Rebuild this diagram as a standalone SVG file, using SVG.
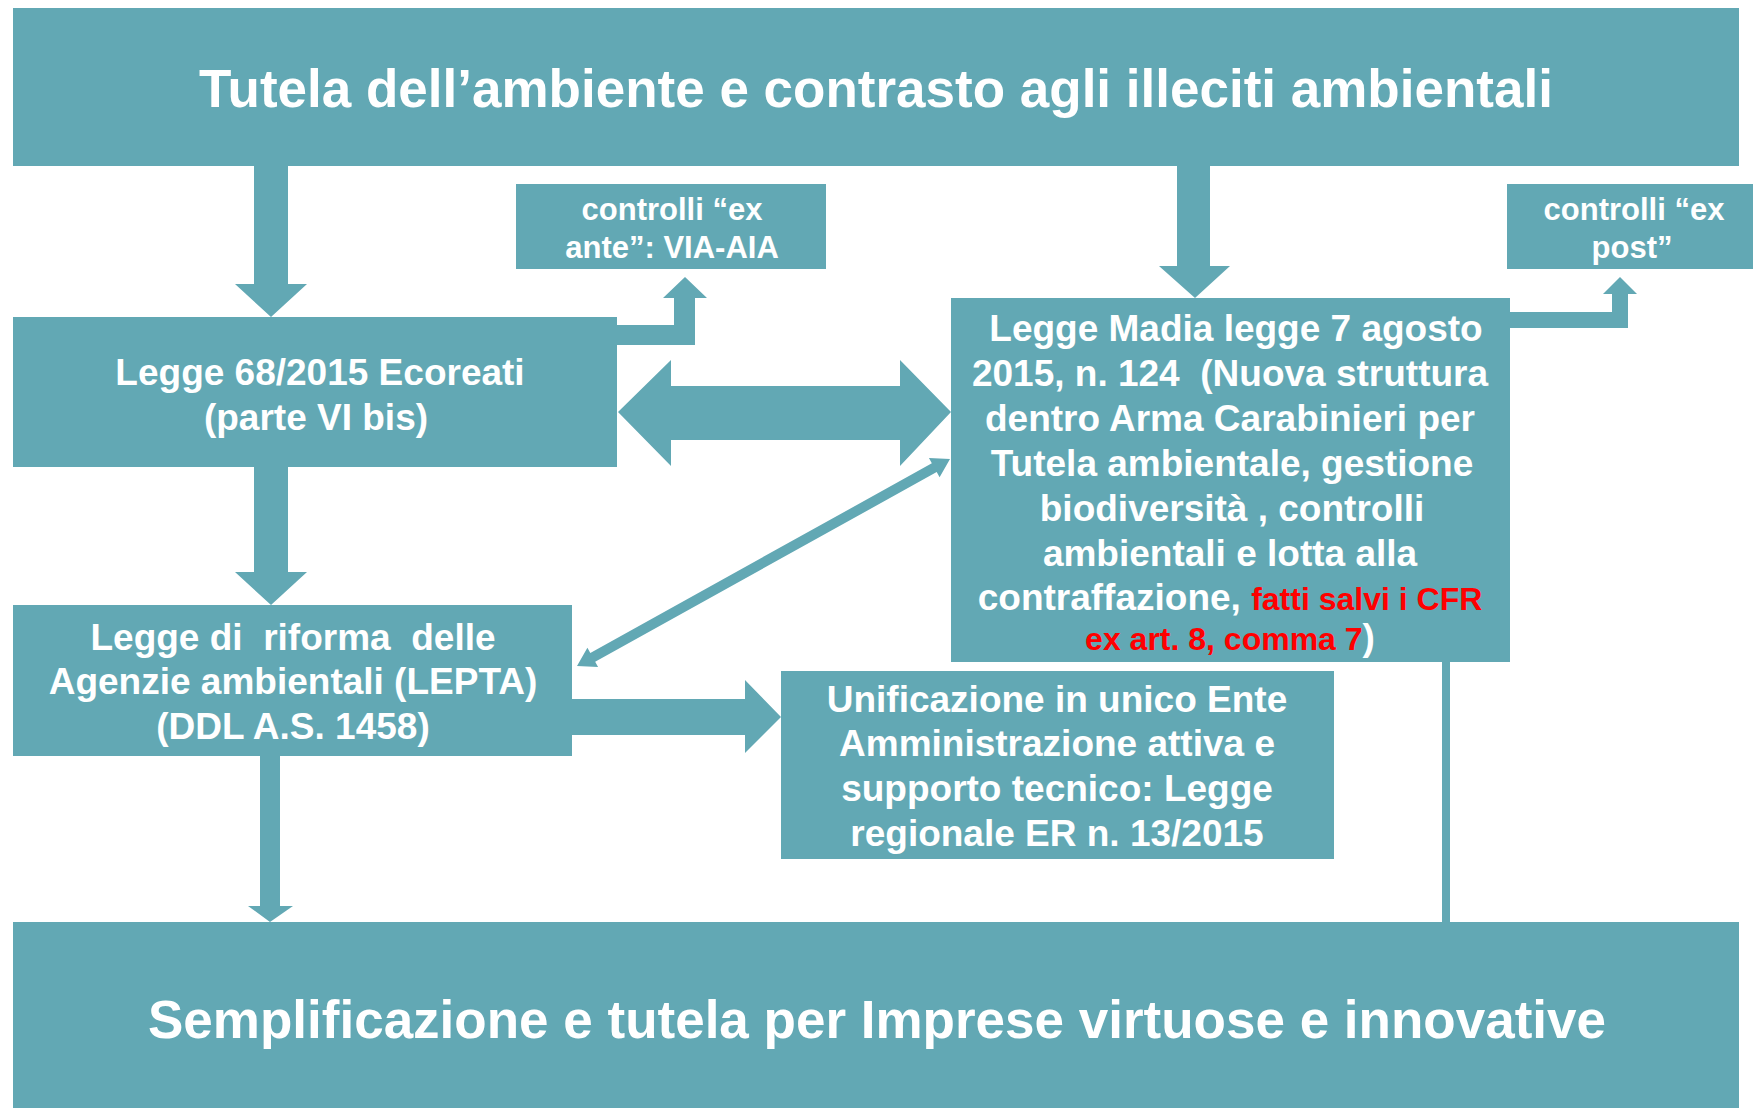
<svg xmlns="http://www.w3.org/2000/svg" width="1753" height="1108" viewBox="0 0 1753 1108">
<style>
.box{fill:#62a8b4}
.arr{fill:#62a8b4}
text{font-family:"Liberation Sans",Arial,sans-serif;font-weight:bold;fill:#ffffff;text-anchor:middle}
.big{font-size:53px}
.mid{font-size:37px}
.sm{font-size:31px}
.red{fill:#ff0000}
</style>
<rect width="1753" height="1108" fill="#ffffff"/>
<g id="connectors">
  <polygon class="arr" points="254,166 288,166 288,284 307,284 271,317 235,284 254,284"/>
  <polygon class="arr" points="1177,166 1210,166 1210,266 1230,266 1195,298 1159,266 1177,266"/>
  <polygon class="arr" points="254,467 288,467 288,572 307,572 271,605 235,572 254,572"/>
  <polygon class="arr" points="260,756 280,756 280,906 293,906 270,922 248,906 260,906"/>
  <rect class="arr" x="1442" y="662" width="8" height="262"/>
  <polygon class="arr" points="617,325 674,325 674,298 663,298 685,277 707,298 695,298 695,345 617,345"/>
  <polygon class="arr" points="1510,312 1612,312 1612,294 1603,294 1620,277 1637,294 1628,294 1628,328 1510,328"/>
  <polygon class="arr" points="618,412 671,360 671,386 900,386 900,360 951,412 900,466 900,440 671,440 671,466"/>
  <polygon class="arr" points="572,699 745,699 745,680 781,717 745,753 745,735 572,735"/>
  <polygon class="arr" transform="translate(577,666) rotate(-29.03)" points="0,0 18,-11 18,-5 408.6,-5 408.6,-11 426.6,0 408.6,11 408.6,5 18,5 18,11"/>
</g>
<g id="node-top">
  <rect class="box" x="13" y="8" width="1726" height="158"/>
  <text class="big" x="876" y="107">Tutela dell’ambiente e contrasto agli illeciti ambientali</text>
</g>
<g id="node-exante">
  <rect class="box" x="516" y="184" width="310" height="85"/>
  <text class="sm" x="672" y="220">controlli “ex</text>
  <text class="sm" x="672" y="258">ante”: VIA-AIA</text>
</g>
<g id="node-expost">
  <rect class="box" x="1507" y="184" width="246" height="85"/>
  <text class="sm" x="1634" y="220">controlli “ex</text>
  <text class="sm" x="1632" y="258">post”</text>
</g>
<g id="node-legge68">
  <rect class="box" x="13" y="317" width="604" height="150"/>
  <text class="mid" x="320" y="385">Legge 68/2015 Ecoreati</text>
  <text class="mid" x="316" y="430">(parte VI bis)</text>
</g>
<g id="node-madia">
  <rect class="box" x="951" y="298" width="559" height="364"/>
  <text class="mid" x="1236" y="341">Legge Madia legge 7 agosto</text>
  <text class="mid" x="1230" y="386" xml:space="preserve">2015, n. 124  (Nuova struttura</text>
  <text class="mid" x="1230" y="431">dentro Arma Carabinieri per</text>
  <text class="mid" x="1232" y="476">Tutela ambientale, gestione</text>
  <text class="mid" x="1232" y="521">biodiversità , controlli</text>
  <text class="mid" x="1230" y="566">ambientali e lotta alla</text>
  <text class="mid" x="1230" y="610">contraffazione, <tspan class="red" style="font-size:32px">fatti salvi i CFR</tspan></text>
  <text x="1230" y="650" style="font-size:32px"><tspan class="red">ex art. 8, comma 7</tspan><tspan style="font-size:37px">)</tspan></text>
</g>
<g id="node-riforma">
  <rect class="box" x="13" y="605" width="559" height="151"/>
  <text class="mid" x="293" y="650" xml:space="preserve">Legge di  riforma  delle</text>
  <text class="mid" x="293" y="694">Agenzie ambientali (LEPTA)</text>
  <text class="mid" x="293" y="739">(DDL A.S. 1458)</text>
</g>
<g id="node-unificazione">
  <rect class="box" x="781" y="671" width="553" height="188"/>
  <text class="mid" x="1057" y="712">Unificazione in unico Ente</text>
  <text class="mid" x="1057" y="756">Amministrazione attiva e</text>
  <text class="mid" x="1057" y="801">supporto tecnico: Legge</text>
  <text class="mid" x="1057" y="846">regionale ER n. 13/2015</text>
</g>
<g id="node-bottom">
  <rect class="box" x="13" y="922" width="1726" height="186"/>
  <text class="big" x="877" y="1038">Semplificazione e tutela per Imprese virtuose e innovative</text>
</g>
</svg>
